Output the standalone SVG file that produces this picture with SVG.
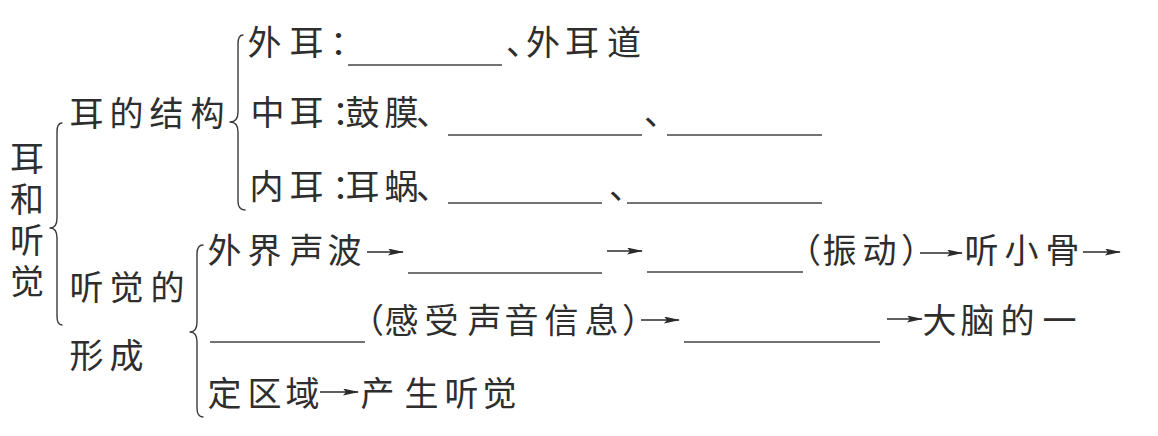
<svg xmlns="http://www.w3.org/2000/svg" width="1158" height="436" viewBox="0 0 1158 436">
<defs>
<style>
.t{font-family:"Noto Sans CJK SC","Noto Sans CJK JP",sans-serif;font-size:34px;font-weight:400;fill:#2e2e2e}
.v{writing-mode:vertical-rl;letter-spacing:7px}
.br{fill:none;stroke:#3a3a3a;stroke-width:1.4;stroke-linecap:round;stroke-linejoin:round}
.ul{stroke:#444;stroke-width:1.4;fill:none}
.ar{stroke:#2a2a2a;stroke-width:1.4;fill:none;marker-end:url(#ah)}
</style>
<marker id="ah" markerUnits="userSpaceOnUse" markerWidth="18" markerHeight="10" refX="15" refY="3.5" orient="auto">
<path d="M0,0 L16,3.5 L0,7 L3,3.5 z" fill="#2a2a2a"/>
</marker>
</defs>
<rect width="1158" height="436" fill="#fff"/>

<g id="root">
<text class="t v" x="27" y="141">耳和听觉</text>
</g>

<g id="ear-structure">
<text class="t" x="69.5 109.5 149.5 190.5" y="126">耳的结构</text>
</g>

<g id="hearing-formation">
<text class="t" x="69.5 109.5 150.5" y="300">听觉的</text>
<text class="t" x="69.5 109.5" y="368">形成</text>
</g>

<g id="outer-ear">
<text class="t" x="247.5 289.5 330" y="55">外耳：</text>
<line class="ul" x1="348" y1="65" x2="502" y2="65"/>
<text class="t" x="506 526 565 607" y="55">、外耳道</text>
</g>

<g id="middle-ear">
<text class="t" x="250.5 289.5 332 345.5 384.5 416" y="125">中耳：鼓膜、</text>
<line class="ul" x1="448" y1="135" x2="642" y2="135"/>
<text class="t" x="644" y="125">、</text>
<line class="ul" x1="667" y1="135" x2="822" y2="135"/>
</g>

<g id="inner-ear">
<text class="t" x="249.5 289.5 332 345.5 384.5 416" y="199">内耳：耳蜗、</text>
<line class="ul" x1="448" y1="203" x2="602" y2="203"/>
<text class="t" x="609" y="199">、</text>
<line class="ul" x1="627" y1="203" x2="822" y2="203"/>
</g>

<g id="path-row1">
<text class="t" x="207.5 247.5 289.5 327.5" y="263">外界声波</text>
<line class="ul" x1="408" y1="273" x2="602" y2="273"/>
<line class="ul" x1="647" y1="272" x2="803" y2="272"/>
<text class="t" x="787 822.5 862.5 901" y="263">（振动）</text>
<text class="t" x="964.5 1004.5 1045.5" y="263">听小骨</text>
</g>

<g id="path-row2">
<line class="ul" x1="210" y1="342" x2="365" y2="342"/>
<text class="t" x="350 384.5 424.5 467.5 504.5 544.5 584.5 622" y="333">（感受声音信息）</text>
<line class="ul" x1="684" y1="342" x2="880" y2="342"/>
<text class="t" x="922.5 960.5 1000.5 1042.5" y="333">大脑的一</text>
</g>

<g id="path-row3">
<text class="t" x="207.5 247.5 285.5" y="406">定区域</text>
<text class="t" x="360.5 404.5 444.5 482.5" y="406">产生听觉</text>
</g>

<g id="connectors">
<path class="br" d="M62,123 Q57,123 57,132 L57,218 Q57,228 50,228 Q57,228 57,238 L57,316 Q57,325 62,325"/>
<path class="br" d="M243,35 Q238,35 238,44 L238,112 Q238,122 230,122 Q238,122 238,132 L238,201 Q238,210 245,210"/>
<path class="br" d="M203,245 Q197,245 197,254 L197,322 Q197,332 190,332 Q197,332 197,342 L197,408 Q197,417 203,417"/>
<line class="ar" x1="367" y1="252" x2="403" y2="252"/>
<line class="ar" x1="607" y1="251" x2="642" y2="251"/>
<line class="ar" x1="920" y1="253" x2="962" y2="253"/>
<line class="ar" x1="1083" y1="252" x2="1120" y2="252"/>
<line class="ar" x1="641" y1="320" x2="679" y2="320"/>
<line class="ar" x1="887" y1="319" x2="922" y2="319"/>
<line class="ar" x1="320" y1="392" x2="358" y2="392"/>
</g>
</svg>
